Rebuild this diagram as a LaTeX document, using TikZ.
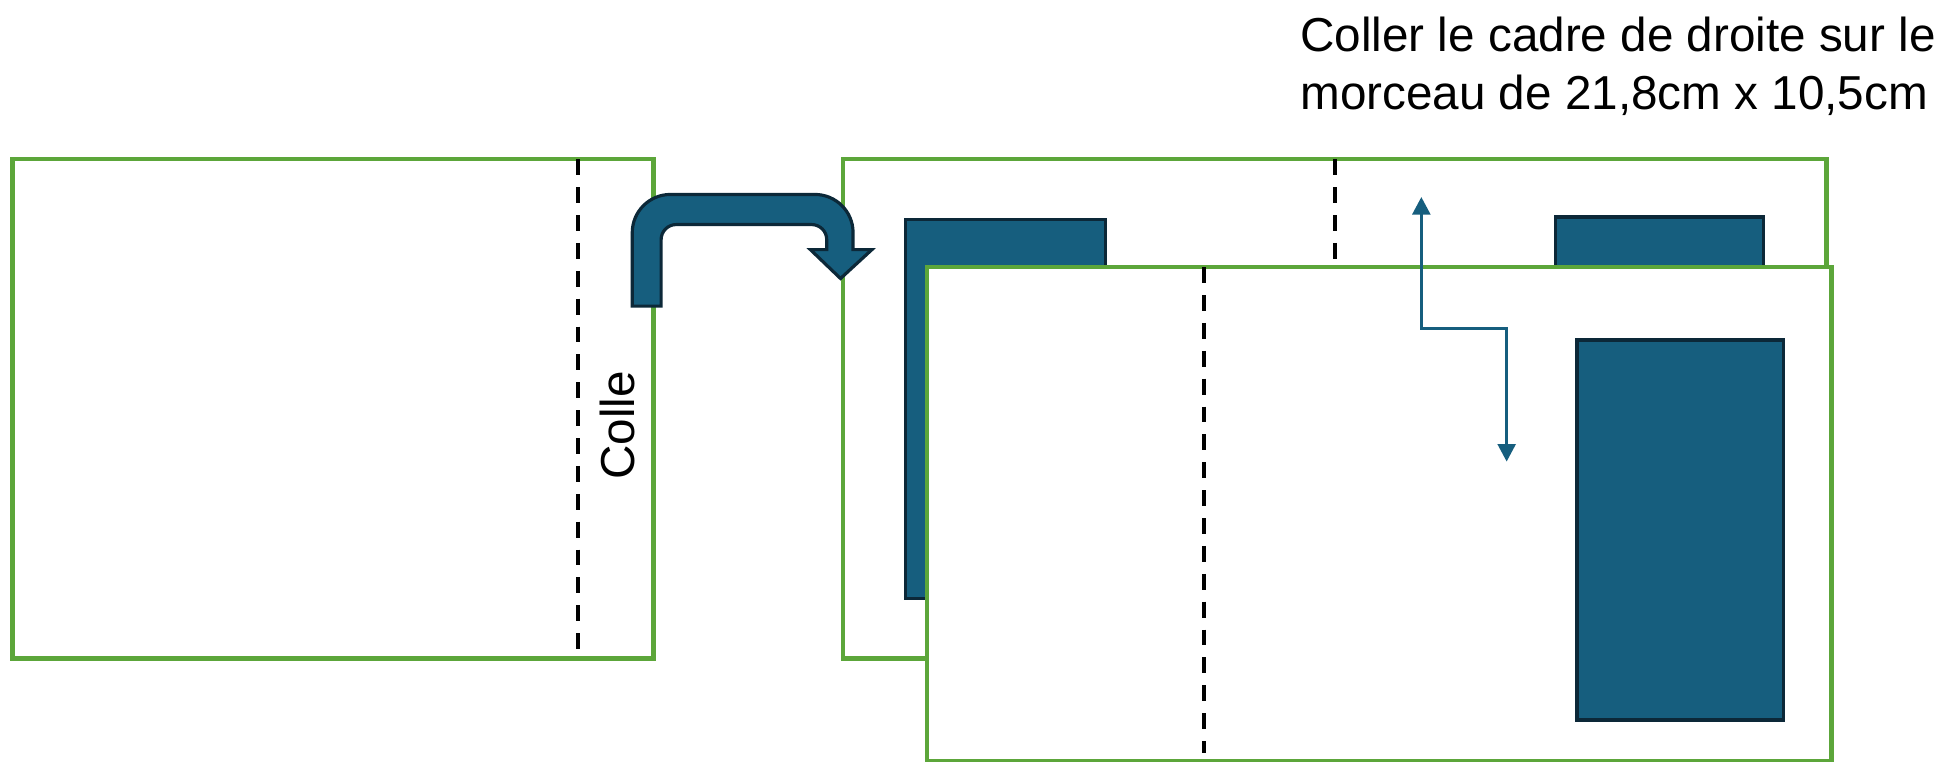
\documentclass[tikz,border=0pt]{standalone}
\usepackage{fontspec}
\setmainfont{Liberation Sans}
\usetikzlibrary{arrows.meta}
\definecolor{framegreen}{RGB}{92,166,58}
\definecolor{padblue}{RGB}{22,94,126}
\definecolor{paddark}{RGB}{12,40,56}
\tikzset{
  sheet/.style={draw=framegreen, line width=1.2pt, fill=white},
  fold/.style={draw=black, line width=1.1pt, dash pattern=on 4.5pt off 3.4pt},
  padbox/.style={draw=paddark, line width=0.9pt, fill=padblue},
  notetext/.style={font=\fontsize{13.5}{16.4}\selectfont, inner sep=0pt},
  moveline/.style={draw=padblue, line width=1pt, <->, >={Triangle[width=5pt,length=5pt]}}
}

\begin{document}
\begin{tikzpicture}[x=0.0125cm, y=-0.0125cm]
            \useasboundingbox (0,0) rectangle (1560,607.4);

            \draw[sheet] (10,127) rectangle (521,525);
            \draw[fold] (461,127) -- (461,525);
            \node[notetext, rotate=90] (colle) at (492,339) {Colle};

            \draw[sheet] (672,127) rectangle (1456,525);
            \draw[fold] (1064,127) -- (1064,525);
            \draw[padbox] (722,175) rectangle (881,477);
            \draw[padbox] (1240,173) rectangle (1406,477);

            \draw[padbox] (504,244) [rounded corners=0.38cm] -- (504,155) -- (680,155)
                [sharp corners] -- (680,199) -- (695,199) -- (670,222) -- (646,199) -- (659,199)
                [rounded corners=0.15cm] -- (659,179) -- (527,179)
                [sharp corners] -- (527,244) -- cycle;

            \draw[sheet] (739,213) rectangle (1460,607);
            \draw[fold] (960,213) -- (960,600);
            \draw[padbox] (1257,271) rectangle (1422,574);

            \coordinate (liftup) at (1133,157);
            \coordinate (bendup) at (1133,262);
            \coordinate (benddown) at (1201,262);
            \coordinate (liftdown) at (1201,368);
            \draw[moveline] (liftup) -- (bendup) -- (benddown) -- (liftdown);

            \node[notetext, anchor=north west, align=left] (note) at (1036,13)
                {Coller le cadre de droite sur le\\morceau de 21,8cm x 10,5cm};
        \end{tikzpicture}
\end{document}
